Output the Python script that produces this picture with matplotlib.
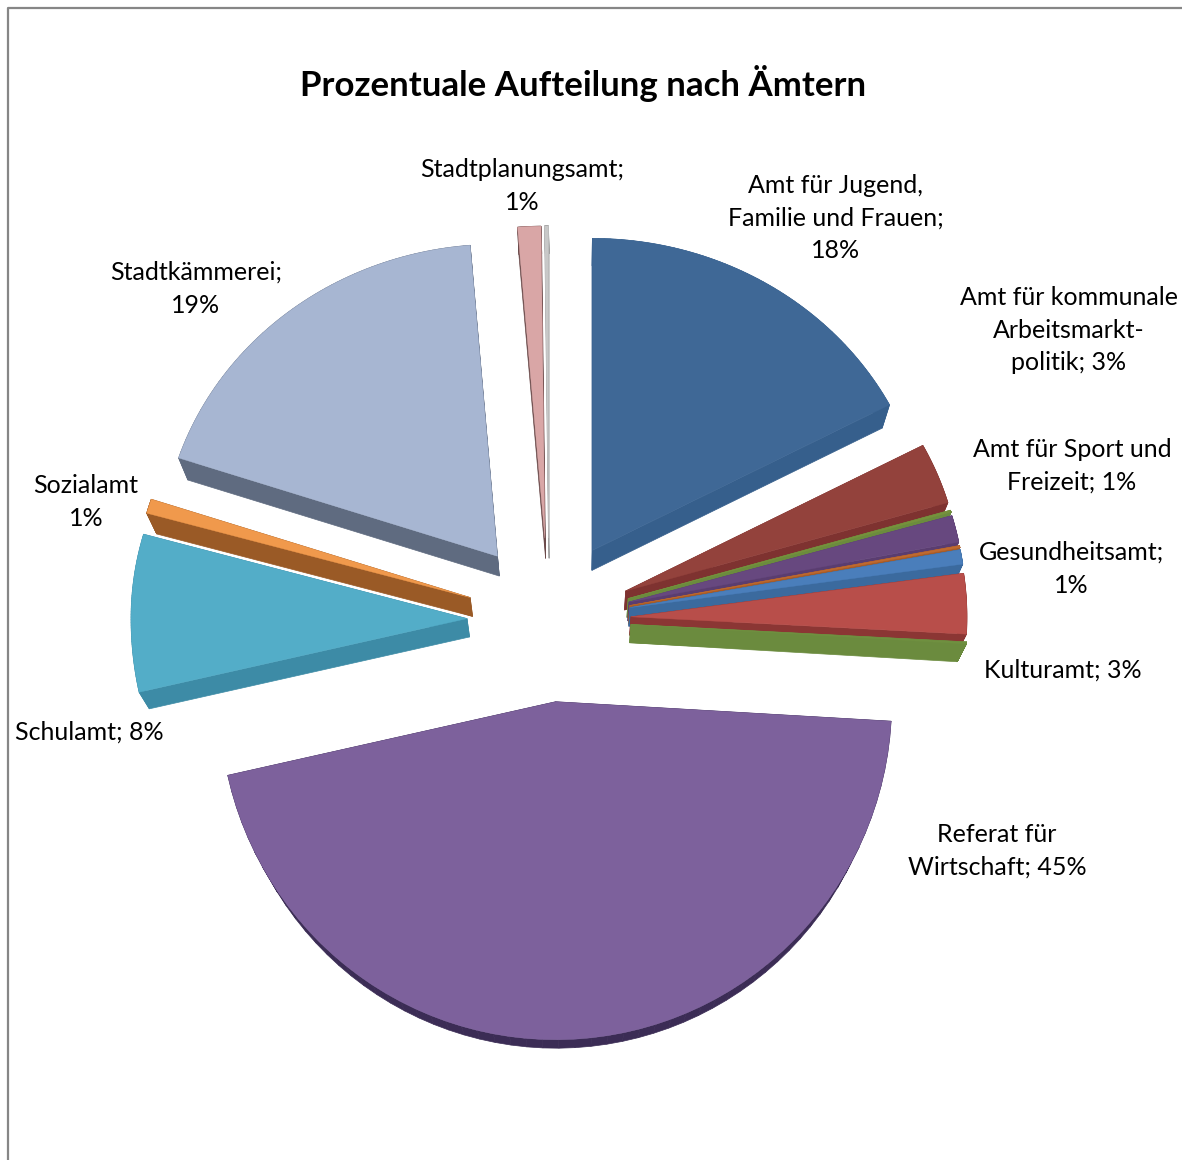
import numpy as np
import matplotlib
matplotlib.use('Agg')
import matplotlib.pyplot as plt
from matplotlib.patches import Polygon

plt.rcParams['font.family'] = ['Lato', 'DejaVu Sans']

title = 'Prozentuale Aufteilung nach Ämtern'

# clockwise from 12 o'clock, unlabeled entries are the thin slivers
names = ['Amt für Jugend, Familie und Frauen', 'Amt für kommunale Arbeitsmarktpolitik', 'sliver olive',
         'Amt für Sport und Freizeit', 'sliver orange', 'Gesundheitsamt', 'Kulturamt', 'sliver green',
         'Referat für Wirtschaft', 'Schulamt', 'Sozialamt', 'Stadtkämmerei', 'Stadtplanungsamt', 'sliver grey']
shares = [17.8, 3.0, 0.1, 1.3, 0.1, 0.7, 2.9, 0.1, 45.7, 7.6, 0.7, 18.9, 1.2, 0.2]
top_colors = ['#3f6896', '#93423c', '#76923c', '#67487f', '#c06a2f', '#4a7ebb', '#b84e4a', '#6f9040',
              '#7d619c', '#53adc8', '#f0994c', '#a7b6d2', '#d9a6a6', '#c8c8c8']
side_colors = ['#365f8c', '#7e3230', '#6b8b3e', '#5a3d70', '#a85c28', '#3b6a9e', '#8b3634', '#6b8b3e',
               '#3b2c55', '#3d8ba6', '#9a5a26', '#5f6b80', '#6b4a4a', '#a0a0a0']

label_texts = ['Stadtplanungsamt;\n1%', 'Amt für Jugend,\nFamilie und Frauen;\n18%',
               'Amt für kommunale\nArbeitsmarkt-\npolitik; 3%', 'Amt für Sport und\nFreizeit; 1%',
               'Gesundheitsamt;\n1%', 'Kulturamt; 3%', 'Referat für\nWirtschaft; 45%', 'Schulamt; 8%',
               'Sozialamt\n1%', 'Stadtkämmerei;\n19%']
label_x = [522, 836, 1069, 1072, 1071, 1063, 997, 89, 86, 196]
label_y = [186, 218, 330, 466, 569, 670, 851, 732, 502, 289]

cx, cy = 549, 620
explode = 82
rx, ry_up, ry_down = 336, 312, 338
vanish = (575, 1400)
depth = 0.0235


def radius(theta):
    # slightly squashed at the back, that is the tilt of the Excel 3D pie
    ry = np.where(np.cos(theta) > 0, ry_up, ry_down)
    return rx * ry / np.sqrt((ry * np.sin(theta)) ** 2 + (rx * np.cos(theta)) ** 2)


def slice_outline(start, end):
    mid = (start + end) / 2
    x0 = cx + explode * np.sin(mid)
    y0 = cy - explode * np.cos(mid)
    t = np.linspace(start, end, 60)
    r = radius(t)
    xs = np.concatenate([[x0], x0 + r * np.sin(t)])
    ys = np.concatenate([[y0], y0 - r * np.cos(t)])
    return np.column_stack([xs, ys])


def draw_slice(ax, start, end, top, side):
    pts = slice_outline(start, end)
    low = pts + depth * (np.array(vanish) - pts)
    for i in range(len(pts)):
        j = (i + 1) % len(pts)
        quad = [pts[i], pts[j], low[j], low[i]]
        ax.add_patch(Polygon(quad, closed=True, facecolor=side, edgecolor=side, linewidth=0.5))
    ax.add_patch(Polygon(pts, closed=True, facecolor=top, edgecolor=top, linewidth=0.3))


fig = plt.figure(figsize=(11.82, 11.6), dpi=100)
ax = fig.add_axes([0, 0, 1, 1])
ax.set_xlim(0, 1182)
ax.set_ylim(1160, 0)
ax.axis('off')

ax.plot([8, 8, 1182], [1160, 7.5, 7.5], color='#868686', linewidth=1.6)

fracs = np.array(shares) / sum(shares)
ends = np.cumsum(fracs) * 2 * np.pi
starts = ends - fracs * 2 * np.pi
mids = (starts + ends) / 2
# back slices first so the front ones cover their sides
order = sorted(range(len(shares)), key=lambda i: min(mids[i], 2 * np.pi - mids[i]))
for i in order:
    draw_slice(ax, starts[i], ends[i], top_colors[i], side_colors[i])

ax.text(583, 84, title, fontsize=25.1, fontweight='bold', ha='center', va='center', color='black')
for txt, x, y in zip(label_texts, label_x, label_y):
    ax.text(x, y, txt, fontsize=18, ha='center', va='center', color='black', linespacing=1.52)

fig.savefig('out.png', dpi=100)
